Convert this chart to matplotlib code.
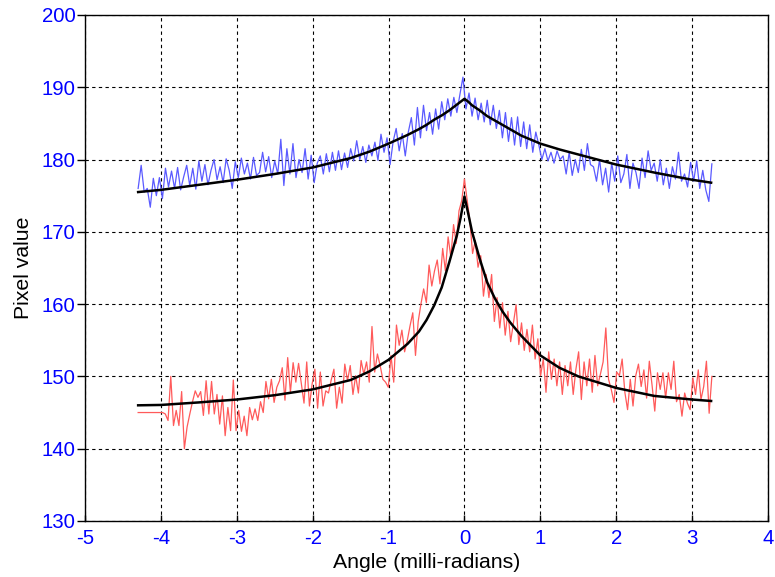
import numpy as np
import matplotlib
matplotlib.use("Agg")
import matplotlib.pyplot as plt

plt.rcParams['font.family'] = ['Liberation Sans', 'DejaVu Sans']
plt.rcParams['axes.unicode_minus'] = False

# ------------------------------
# measured profiles (noisy), read off the picture
blue_start, blue_end = -4.3, 3.26
blue_vals = [
    176.0, 179.2, 175.5, 176.0, 173.4, 177.4, 175.0, 177.5, 174.6, 178.8,
    176.2, 178.4, 176.0, 178.9, 175.8, 177.6, 179.2, 176.4, 178.8, 175.9,
    179.8, 177.0, 179.3, 176.5, 178.5, 180.0, 177.2, 179.0, 176.8, 180.1,
    178.5, 176.0, 179.7, 177.5, 180.2, 178.0, 179.5, 177.3, 180.3, 177.8,
    178.2, 181.0, 178.3, 180.4, 177.5, 179.8, 178.0, 182.8, 176.4, 181.5,
    178.0, 182.2, 177.5, 180.0, 178.2, 181.5, 177.3, 180.6, 176.8, 179.5,
    180.5, 178.0, 180.8, 178.3, 181.0, 178.5, 181.2, 178.6, 180.9, 178.9,
    181.5, 179.8, 182.6, 180.0, 181.8, 179.6, 182.0, 180.5, 182.4, 179.9,
    183.5, 181.0, 183.0, 179.3, 182.5, 184.3, 181.2, 183.6, 180.5, 183.8,
    185.8, 182.0, 187.2, 183.0, 187.5, 184.0, 186.5, 183.5, 187.0, 184.2,
    188.0, 185.5, 188.4, 186.0, 188.6, 186.5, 189.0, 191.4, 187.0, 189.2,
    186.0, 188.5, 185.5, 187.8, 185.2, 188.2, 184.8, 187.5, 184.3, 186.8,
    183.0, 186.5, 182.5, 185.8, 182.0, 185.9, 181.8, 185.2, 181.5, 184.8,
    181.0, 183.8, 182.0, 180.0, 181.5, 179.8, 181.0, 179.5, 181.2, 180.0,
    180.5, 178.0, 181.0, 177.8, 180.0, 178.2, 181.4, 178.5, 182.2, 179.3,
    179.0, 177.0, 180.0, 176.5, 178.8, 175.5, 179.5, 177.0, 180.5, 176.8,
    178.0, 180.7, 176.0, 179.5, 178.2, 176.0, 180.2, 177.5, 181.2, 178.5,
    179.5, 177.0, 180.0, 176.5, 178.8, 176.0, 179.0, 177.3, 181.0, 177.0,
    178.0, 176.2, 179.6, 177.0, 179.8, 176.0, 178.5, 175.8, 174.2, 179.4,
]

red_start, red_end = -4.3, 3.26
red_vals = [
    145.0, 145.0, 145.0, 145.0, 145.0, 145.0, 145.0, 145.0, 145.0, 145.0,
    144.8, 143.9, 150.0, 143.2, 145.3, 143.2, 147.9, 140.0, 143.0, 144.8,
    146.5, 148.0, 147.1, 147.9, 144.6, 149.4, 144.8, 149.3, 144.8, 147.5,
    143.4, 147.3, 141.8, 145.7, 142.5, 149.5, 142.5, 145.3, 142.4, 144.5,
    141.8, 145.7, 144.0, 145.5, 143.9, 146.5, 145.0, 149.3, 146.9, 149.6,
    146.4, 148.5, 149.4, 151.2, 146.7, 152.6, 147.8, 151.9, 149.2, 151.8,
    149.0, 146.3, 152.0, 145.9, 149.0, 151.0, 145.6, 150.6, 145.9, 148.0,
    147.7, 149.5, 151.0, 145.6, 148.5, 146.3, 151.7, 149.4, 151.5, 147.5,
    150.1, 147.7, 152.2, 150.3, 152.0, 149.2, 156.9, 150.6, 153.1, 151.5,
    149.6, 149.2, 148.5, 152.9, 149.2, 157.1, 154.3, 156.4, 153.4, 155.0,
    157.0, 158.8, 152.9, 157.6, 160.0, 162.1, 160.2, 165.4, 162.5, 164.6,
    166.1, 162.8, 167.7, 164.6, 169.3, 166.5, 171.0, 168.4, 172.9, 174.3,
    177.3, 174.4, 171.5, 167.0, 168.8, 165.1, 166.7, 161.1, 164.1, 160.9,
    164.1, 157.6, 160.9, 156.7, 160.2, 155.7, 159.0, 154.8, 157.4, 159.9,
    154.4, 157.4, 153.6, 156.5, 153.4, 157.1, 152.4, 155.2, 150.1, 152.4,
    147.8, 153.4, 149.6, 152.4, 148.7, 152.0, 147.5, 151.5, 148.7, 152.0,
    147.5, 151.0, 153.4, 146.8, 152.0, 148.7, 152.4, 147.8, 152.9, 148.7,
    150.3, 152.0, 156.7, 149.6, 148.2, 146.4, 150.6, 150.1, 152.4, 147.8,
    145.4, 149.6, 145.9, 150.1, 151.7, 148.6, 150.9, 147.0, 152.1, 148.8,
    145.2, 150.5, 148.2, 150.5, 147.0, 150.5, 148.2, 152.1, 146.5, 147.5,
    144.5, 147.7, 146.3, 145.4, 149.8, 147.5, 150.9, 146.8, 148.6, 152.1,
    144.9, 150.0,
]

# fitted curves (black)
fit_x = [-4.3, -4.0, -3.5, -3.0, -2.5, -2.0, -1.5, -1.25, -1.0, -0.75, -0.6,
         -0.5, -0.4, -0.3, -0.2, -0.1, -0.05, 0.0, 0.05, 0.1, 0.2, 0.3, 0.4,
         0.5, 0.6, 0.75, 1.0, 1.25, 1.5, 2.0, 2.5, 3.0, 3.25]
blue_fit = [175.5, 175.8, 176.5, 177.2, 178.0, 178.9, 180.2, 181.1, 182.2,
            183.4, 184.2, 184.8, 185.5, 186.1, 186.8, 187.6, 188.0, 188.4,
            188.0, 187.5, 186.8, 186.0, 185.4, 184.8, 184.2, 183.3, 182.2,
            181.4, 180.7, 179.3, 178.2, 177.2, 176.8]
red_fit = [146.0, 146.05, 146.4, 146.8, 147.4, 148.2, 149.5, 150.7, 152.3,
           154.5, 156.2, 157.8, 159.8, 162.3, 165.8, 169.5, 172.0, 174.9,
           172.5, 170.0, 166.3, 163.0, 160.8, 159.0, 157.5, 155.6, 152.9,
           151.2, 150.0, 148.4, 147.3, 146.8, 146.6]

x_ticks = [-5, -4, -3, -2, -1, 0, 1, 2, 3, 4]
y_ticks = [130, 140, 150, 160, 170, 180, 190, 200]

# ------------------------------
fig = plt.figure(figsize=(7.75, 5.77), dpi=100)
ax = fig.add_axes([0.1097, 0.0971, 0.8813, 0.877])

bx = np.linspace(blue_start, blue_end, len(blue_vals))
rx = np.linspace(red_start, red_end, len(red_vals))

ax.plot(bx, blue_vals, color='#5a5aff', lw=0.9, zorder=3)
ax.plot(rx, red_vals, color='#ff5a5a', lw=0.9, zorder=3)
ax.plot(fit_x, blue_fit, color='black', lw=1.8, zorder=4)
ax.plot(fit_x, red_fit, color='black', lw=1.8, zorder=4)

ax.set_xlim(-5, 4)
ax.set_ylim(130, 200)
ax.set_xticks(x_ticks)
ax.set_yticks(y_ticks)
ax.grid(True, color='black', linestyle=(0, (3, 3)), lw=0.8)

ax.tick_params(axis='both', colors='black', labelcolor='blue', labelsize=14.7)
ax.tick_params(axis='y', length=6, width=1, direction='out', pad=1)
ax.tick_params(axis='x', length=4, width=1, direction='in', pad=5.5)
for s in ax.spines.values():
    s.set_color('black')
    s.set_linewidth(1.0)

ax.set_xlabel("Angle (milli-radians)", fontsize=15.3, labelpad=4)
ax.set_ylabel("Pixel value", fontsize=15.3, labelpad=6)

plt.savefig("out.png", dpi=100)
